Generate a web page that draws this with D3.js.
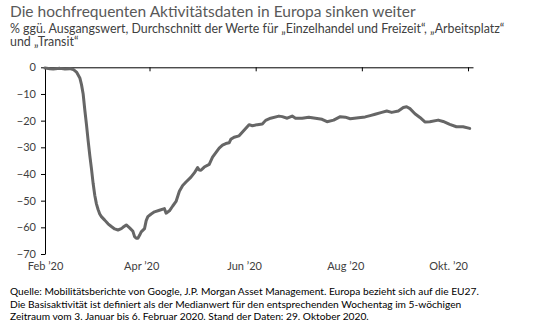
<!DOCTYPE html>
<html><head><meta charset="utf-8">
<script src="https://cdn.jsdelivr.net/npm/d3@7/dist/d3.min.js"></script>
<style>
body{margin:0;background:#fff;}
svg{display:block;font-family:Lato,"Open Sans",sans-serif;}
</style></head>
<body><svg id="c" width="543" height="328"></svg>
<script>
const title = "Die hochfrequenten Aktivitätsdaten in Europa sinken weiter";
const subtitle = ["% ggü. Ausgangswert, Durchschnitt der Werte für „Einzelhandel und Freizeit“, „Arbeitsplatz“", "und „Transit“"];
const footer = ["Quelle:  Mobilitätsberichte von Google, J.P. Morgan Asset Management. Europa bezieht sich auf die EU27.",
  "Die Basisaktivität ist definiert als der Medianwert für den entsprechenden Wochentag im 5-wöchigen",
  "Zeitraum vom 3. Januar bis 6. Februar 2020. Stand der Daten: 29. Oktober 2020."];

const dates = ["2020-02-15","2020-02-18","2020-02-20","2020-02-24","2020-02-27","2020-03-01","2020-03-03","2020-03-05","2020-03-07","2020-03-08","2020-03-09","2020-03-10","2020-03-11","2020-03-12","2020-03-13","2020-03-14","2020-03-15","2020-03-16","2020-03-17","2020-03-18","2020-03-19","2020-03-20","2020-03-22","2020-03-24","2020-03-26","2020-03-28","2020-03-30","2020-04-01","2020-04-02","2020-04-04","2020-04-06","2020-04-08","2020-04-09","2020-04-10","2020-04-11","2020-04-12","2020-04-13","2020-04-15","2020-04-16","2020-04-17","2020-04-19","2020-04-21","2020-04-24","2020-04-27","2020-04-28","2020-04-30","2020-05-02","2020-05-04","2020-05-06","2020-05-08","2020-05-10","2020-05-13","2020-05-15","2020-05-17","2020-05-18","2020-05-19","2020-05-21","2020-05-24","2020-05-26","2020-05-28","2020-05-30","2020-06-01","2020-06-03","2020-06-05","2020-06-06","2020-06-08","2020-06-11","2020-06-14","2020-06-17","2020-06-19","2020-06-22","2020-06-25","2020-06-27","2020-06-30","2020-07-05","2020-07-07","2020-07-10","2020-07-13","2020-07-15","2020-07-19","2020-07-23","2020-07-27","2020-07-31","2020-08-03","2020-08-07","2020-08-11","2020-08-14","2020-08-17","2020-08-22","2020-08-26","2020-08-29","2020-09-01","2020-09-05","2020-09-08","2020-09-11","2020-09-15","2020-09-18","2020-09-20","2020-09-22","2020-09-25","2020-09-28","2020-10-01","2020-10-04","2020-10-09","2020-10-12","2020-10-16","2020-10-20","2020-10-24","2020-10-28"];
const values = [-0.3,-0.5,-0.6,-0.4,-0.6,-0.5,-0.8,-1.8,-4,-6.5,-10,-16,-21.5,-27.5,-33,-38,-43.5,-48,-51.2,-53.3,-55,-56,-57.3,-58.7,-59.7,-60.6,-61,-60.5,-60,-59.1,-60.2,-61.5,-63.5,-64.1,-64.1,-63,-61.7,-60.5,-57.5,-56,-55,-54.2,-53.6,-53,-54.7,-53.8,-52,-50.3,-46.5,-44.3,-43,-41.2,-39.6,-37.6,-38.5,-38.6,-37.4,-36.4,-33.7,-32,-30.3,-29.2,-28.6,-28.3,-27,-26.2,-25.7,-23.6,-21.5,-21.9,-21.5,-21.3,-19.9,-19.1,-18.3,-18.5,-19.1,-18.3,-19.1,-19.1,-18.7,-19.1,-19.5,-20.4,-19.8,-18.5,-18.7,-19.3,-18.9,-18.6,-18.1,-17.6,-16.9,-16.4,-16.9,-16.4,-15.1,-14.8,-15.5,-17.4,-18.8,-20.5,-20.4,-19.8,-20.3,-21.4,-22.3,-22.3,-22.9];
const yTicks = [0,-10,-20,-30,-40,-50,-60,-70];
const xTickDates = ["2020-02-15","2020-04-18","2020-06-21","2020-08-24","2020-10-27"];
const xLabelDates = ["2020-02-15","2020-04-13","2020-06-14","2020-08-14","2020-10-15"];
const xLabels = ["Feb ’20","Apr ’20","Jun ’20","Aug ’20","Okt. ’20"];

const parse = d3.utcParse("%Y-%m-%d");
const data = dates.map((d,i)=>({date:parse(d), v:values[i]}));
const svg = d3.select("#c");

const x = d3.scaleUtc().domain([parse("2020-02-15"), parse("2020-10-30")]).range([45, 473]);
const y = d3.scaleLinear().domain([-70, 0]).range([254, 67.3]);

// titles
svg.append("text").attr("x",10).attr("y",17).attr("fill","#595959").attr("font-size",15.5).text(title);
subtitle.forEach((t,i)=>svg.append("text").attr("x",10).attr("y",32.5+i*13.5).attr("fill","#404040").attr("font-size",12.4).text(t));

// y axis
const ya = svg.append("g").attr("transform","translate(45,0)")
  .call(d3.axisLeft(y).tickValues(yTicks).tickSize(4).tickSizeOuter(0).tickFormat(d=>d===0?"0":d3.format("d")(d)));
ya.select(".domain").attr("stroke","#000");
ya.selectAll(".tick line").attr("stroke","#000");
ya.selectAll("text").attr("font-size",11).attr("fill","#404040").attr("font-family","Lato,'Open Sans',sans-serif").attr("x",-9);

// x axis at y=0
const xa = svg.append("g").attr("transform",`translate(0,${y(0)})`)
  .call(d3.axisBottom(x).tickValues(xTickDates.map(parse)).tickSize(4).tickSizeOuter(0).tickFormat(""));
xa.select(".domain").attr("stroke","#000");
xa.selectAll(".tick line").attr("stroke","#000");

// x labels at bottom
const xl = svg.append("g").attr("transform","translate(0,259)")
  .call(d3.axisBottom(x).tickValues(xLabelDates.map(parse)).tickSize(0).tickFormat((d,i)=>xLabels[i]));
xl.select(".domain").remove();
xl.selectAll("text").attr("font-size",11).attr("fill","#404040").attr("font-family","Lato,'Open Sans',sans-serif");

// line
svg.append("path").datum(data)
  .attr("fill","none").attr("stroke","#666666").attr("stroke-width",3).attr("stroke-linejoin","round").attr("stroke-linecap","round")
  .attr("d", d3.line().x(d=>x(d.date)).y(d=>y(d.v)));

// footer
footer.forEach((t,i)=>svg.append("text").attr("x",10).attr("y",295+i*12.5).attr("fill","#000").attr("font-size",10.2).text(t));
</script></body></html>
